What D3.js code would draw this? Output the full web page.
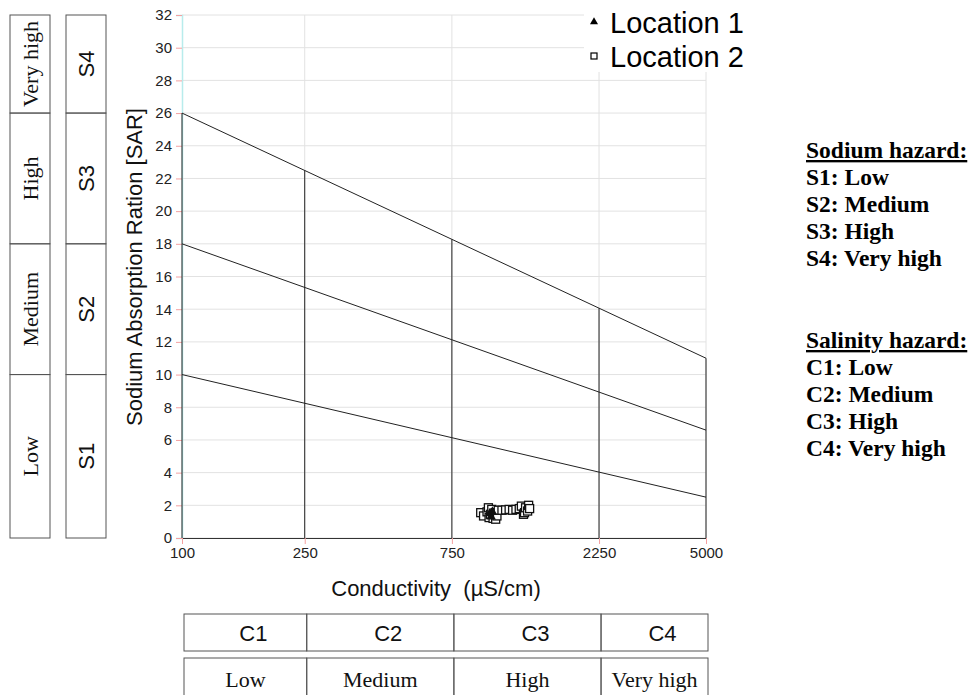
<!DOCTYPE html>
<html>
<head>
<meta charset="utf-8">
<script src="https://cdn.jsdelivr.net/npm/d3@7"></script>
<style>
  body { margin: 0; background: #fff; }
  svg { display: block; }
  .sans { font-family: "Liberation Sans", Arial, sans-serif; }
  .serif { font-family: "Liberation Serif", "Times New Roman", serif; }
</style>
</head>
<body>
<svg width="974" height="695"></svg>
<script>
// conductivity ticks and class boundaries (uS/cm)
const xTicks = [100, 250, 750, 2250, 5000];
const yTicks = [0, 2, 4, 6, 8, 10, 12, 14, 16, 18, 20, 22, 24, 26, 28, 30, 32];

// SAR boundary lines: value at 100 and at 5000 uS/cm
const sodiumLines = [[10, 2.5], [18, 6.6], [26, 11]];

const sodiumClasses = ['S1', 'S2', 'S3', 'S4'];
const sodiumNames = ['Low', 'Medium', 'High', 'Very high'];
const sodiumEdges = [0, 10, 18, 26, 32];
const salinityClasses = ['C1', 'C2', 'C3', 'C4'];
const salinityNames = ['Low', 'Medium', 'High', 'Very high'];

// samples [conductivity, SAR]
const location1 = [[995, 1.5], [1005, 1.3], [1015, 1.6]];
const location2 = [
  [930, 1.55], [950, 1.35], [975, 1.6], [985, 1.85], [990, 1.25], [1000, 1.45],
  [1010, 1.75], [1020, 1.2], [1035, 1.55], [1040, 1.15], [1050, 1.35], [1060, 1.7],
  [1090, 1.7], [1120, 1.72], [1150, 1.75], [1180, 1.7], [1210, 1.75], [1240, 1.8],
  [1260, 1.95], [1280, 1.45], [1290, 1.55], [1300, 1.85], [1320, 1.65], [1330, 2.0],
  [1340, 1.8]
];

const svg = d3.select('svg');

const x = d3.scaleLog().domain([100, 5000]).range([182, 706]);
const y = d3.scaleLinear().domain([0, 32]).range([538, 15]);

// value of a boundary line at conductivity c (straight in log space)
function lineAt(l, c) {
  const t = (Math.log10(c) - 2) / (Math.log10(5000) - 2);
  return l[0] + (l[1] - l[0]) * t;
}

// grid
svg.append('g').selectAll('line').data(yTicks).enter().append('line')
  .attr('x1', x(100)).attr('x2', x(5000))
  .attr('y1', d => y(d)).attr('y2', d => y(d))
  .attr('stroke', '#e2e2e2');
svg.append('g').selectAll('line').data(xTicks.slice(1)).enter().append('line')
  .attr('x1', d => x(d)).attr('x2', d => x(d))
  .attr('y1', y(0)).attr('y2', y(32))
  .attr('stroke', '#e2e2e2');

// y axis (cyan line, red ticks)
const yAxis = svg.append('g').attr('class', 'sans')
  .attr('transform', `translate(${x(100)},0)`)
  .call(d3.axisLeft(y).tickValues(yTicks).tickSize(6).tickPadding(4));
yAxis.select('.domain').attr('stroke', '#b8ecec').attr('stroke-width', 1.5);
yAxis.selectAll('.tick line').attr('stroke', '#f4a0a0');
yAxis.selectAll('.tick text').attr('font-size', 15).attr('fill', '#222');

// x axis
const xAxis = svg.append('g').attr('class', 'sans')
  .attr('transform', `translate(0,${y(0)})`)
  .call(d3.axisBottom(x).tickValues(xTicks).tickFormat(d3.format('d')).tickSize(6).tickPadding(3));
xAxis.select('.domain').attr('stroke', '#333');
xAxis.selectAll('.tick line').attr('stroke', '#f4a0a0');
xAxis.selectAll('.tick text').attr('font-size', 15).attr('fill', '#222');

// boundary lines
const bounds = svg.append('g').attr('stroke', '#222').attr('fill', 'none');
sodiumLines.forEach(l => {
  bounds.append('line')
    .attr('x1', x(100)).attr('y1', y(l[0]))
    .attr('x2', x(5000)).attr('y2', y(l[1]));
});
const topLine = sodiumLines[sodiumLines.length - 1];
xTicks.forEach(c => {
  bounds.append('line')
    .attr('x1', x(c)).attr('x2', x(c))
    .attr('y1', y(0)).attr('y2', y(lineAt(topLine, c)));
});

// samples
svg.append('g').selectAll('rect').data(location2).enter().append('rect')
  .attr('x', d => x(d[0]) - 4).attr('y', d => y(d[1]) - 4)
  .attr('width', 8).attr('height', 8)
  .attr('fill', '#fff').attr('stroke', '#111').attr('stroke-width', 1.3);
svg.append('g').selectAll('path').data(location1).enter().append('path')
  .attr('d', d3.symbol(d3.symbolTriangle, 40))
  .attr('transform', d => `translate(${x(d[0])},${y(d[1])})`)
  .attr('fill', '#111');

// legend
const legend = svg.append('g').attr('class', 'sans');
legend.append('rect').attr('x', 584).attr('y', 0).attr('width', 180).attr('height', 72).attr('fill', '#fff');
legend.append('path').attr('d', d3.symbol(d3.symbolTriangle, 28))
  .attr('transform', 'translate(594,22)').attr('fill', '#000');
legend.append('rect').attr('x', 591).attr('y', 53).attr('width', 6).attr('height', 6)
  .attr('fill', '#fff').attr('stroke', '#000').attr('stroke-width', 1.2);
legend.append('text').attr('x', 610).attr('y', 33).attr('font-size', 29).text('Location 1');
legend.append('text').attr('x', 610).attr('y', 67).attr('font-size', 29).text('Location 2');

// axis titles
svg.append('text').attr('class', 'sans')
  .attr('transform', 'translate(142,267) rotate(-90)')
  .attr('text-anchor', 'middle').attr('font-size', 22).attr('fill', '#111')
  .text('Sodium Absorption Ration [SAR]');
svg.append('text').attr('class', 'sans')
  .attr('x', 436).attr('y', 596)
  .attr('text-anchor', 'middle').attr('font-size', 22).attr('fill', '#111')
  .style('white-space', 'pre')
  .text('Conductivity  (µS/cm)');

// left class boxes
function sideColumn(x0, labels, cls) {
  const g = svg.append('g');
  labels.forEach((lab, i) => {
    const y0 = y(sodiumEdges[i + 1]), y1 = y(sodiumEdges[i]);
    g.append('rect').attr('x', x0).attr('y', y0).attr('width', 40).attr('height', y1 - y0)
      .attr('fill', 'none').attr('stroke', '#555');
    g.append('text').attr('class', cls)
      .attr('transform', `translate(${x0 + 28},${(y0 + y1) / 2}) rotate(-90)`)
      .attr('text-anchor', 'middle').attr('font-size', 22).attr('fill', '#111')
      .text(lab);
  });
}
sideColumn(10, sodiumNames, 'serif');
sideColumn(66, sodiumClasses, 'sans');

// bottom class boxes
function bottomRow(y0, h, labels, cls, dy) {
  const g = svg.append('g');
  labels.forEach((lab, i) => {
    const x0 = x(xTicks[i]) + 2, x1 = x(xTicks[i + 1]) + 2;
    g.append('rect').attr('x', x0).attr('y', y0).attr('width', x1 - x0).attr('height', h)
      .attr('fill', 'none').attr('stroke', '#555');
    g.append('text').attr('class', cls)
      .attr('x', (x0 + x1) / 2 + (cls === 'sans' ? 8 : 0)).attr('y', y0 + dy)
      .attr('text-anchor', 'middle').attr('font-size', 22).attr('fill', '#111')
      .text(lab);
  });
}
bottomRow(614, 37, salinityClasses, 'sans', 27);
bottomRow(658, 40, salinityNames, 'serif', 29);

// right hand key
const key = svg.append('g').attr('class', 'serif').attr('font-weight', 'bold').attr('font-size', 23.5).attr('fill', '#000');
function keyBlock(y0, title, codes, names) {
  key.append('text').attr('x', 806).attr('y', y0).attr('text-decoration', 'underline').text(title);
  codes.forEach((c, i) => {
    key.append('text').attr('x', 806).attr('y', y0 + 27 * (i + 1)).text(c + ': ' + names[i]);
  });
}
keyBlock(158, 'Sodium hazard:', sodiumClasses, sodiumNames);
keyBlock(348, 'Salinity hazard:', salinityClasses, salinityNames);
</script>
</body>
</html>
